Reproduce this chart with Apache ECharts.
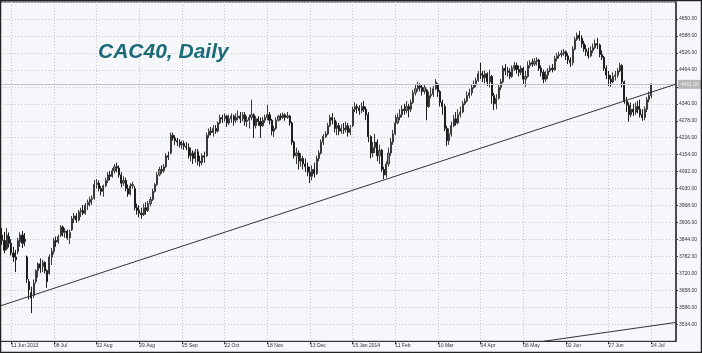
<!DOCTYPE html>
<html>
<head>
<meta charset="utf-8">
<script src="https://cdn.jsdelivr.net/npm/echarts@6/dist/echarts.min.js"></script>
<style>
html,body{margin:0;padding:0;background:#f6f7fb;}
#chart{width:702px;height:353px;}
</style>
</head>
<body>
<div id="chart"></div>
<script>
// ---- data ----
const firstDay = '2013-06-04';
const holidays = ['2013-12-24','2013-12-25','2013-12-26','2014-01-01','2014-04-18','2014-04-21','2014-05-01'];
const slotCount = 302; // trading-day slots on the axis (incl. right-hand shift)

const tickDates = ['2013-06-11','2013-07-08','2013-08-02','2013-08-29','2013-09-25','2013-10-22','2013-11-18','2013-12-13','2014-01-15','2014-02-11','2014-03-10','2014-04-04','2014-05-06','2014-06-02','2014-06-27','2014-07-24'];
const tickLabels = ['11 Jun 2013','08 Jul','02 Aug','29 Aug','25 Sep','22 Oct','18 Nov','13 Dec','15 Jan 2014','11 Feb','10 Mar','04 Apr','06 May','02 Jun','27 Jun','24 Jul'];

const opens = [
3890,3860,3840,3810,3855,3830,3795,3780,3800,3835,
3860,3845,3780,3690,3650,3640,3690,3730,3755,3745,
3760,3730,3720,3780,3800,3840,3835,3860,3890,3870,
3875,3850,3880,3920,3930,3915,3945,3950,3940,3970,
3980,3990,3995,4045,4050,4030,4020,4040,4060,4080,
4075,4095,4110,4105,4080,4050,4060,4030,4010,4040,
4030,3960,3950,3940,3935,3960,3950,3975,3990,4020,
4045,4080,4100,4095,4110,4150,4160,4225,4215,4205,
4200,4190,4195,4185,4180,4150,4160,4140,4165,4130,
4125,4150,4150,4225,4240,4235,4250,4240,4270,4290,
4285,4295,4270,4285,4295,4280,4290,4295,4285,4300,
4275,4280,4290,4300,4260,4285,4275,4260,4280,4290,
4300,4280,4240,4250,4280,4295,4290,4300,4290,4295,
4270,4200,4150,4160,4130,4140,4120,4110,4090,4075,
4100,4085,4140,4160,4200,4220,4230,4260,4290,4280,
4250,4260,4240,4250,4245,4260,4235,4260,4320,4330,
4325,4315,4330,4320,4300,4220,4160,4180,4200,4150,
4170,4100,4080,4120,4160,4200,4230,4270,4290,4300,
4320,4315,4330,4320,4345,4380,4395,4405,4400,4385,
4390,4330,4370,4375,4395,4410,4385,4345,4330,4250,
4205,4230,4260,4285,4270,4300,4310,4340,4350,4370,
4380,4400,4410,4425,4450,4445,4435,4450,4420,4440,
4370,4340,4360,4400,4420,4470,4460,4455,4440,4470,
4480,4465,4455,4470,4430,4440,4480,4490,4485,4495,
4500,4470,4455,4430,4445,4460,4470,4465,4505,4515,
4520,4525,4530,4515,4500,4490,4540,4575,4590,4580,
4560,4540,4530,4515,4535,4545,4560,4555,4520,4510,
4470,4445,4430,4420,4440,4445,4460,4480,4420,4350,
4335,4300,4320,4310,4330,4320,4300,4290,4320,4355,
4370];

const closes = [
3860,3840,3805,3860,3830,3795,3780,3770,3840,3860,
3830,3838,3700,3660,3630,3685,3730,3755,3740,3760,
3730,3690,3780,3800,3840,3835,3855,3890,3870,3875,
3850,3870,3920,3930,3915,3945,3950,3940,3970,3980,
3990,3995,4045,4050,4030,4020,4040,4060,4080,4075,
4095,4110,4105,4080,4050,4060,4030,4010,4040,4045,
3960,3950,3940,3935,3960,3950,3975,3990,4020,4045,
4080,4100,4095,4110,4150,4145,4225,4215,4205,4200,
4190,4195,4185,4180,4150,4160,4140,4165,4130,4125,
4150,4145,4225,4240,4235,4250,4240,4270,4290,4285,
4295,4270,4285,4295,4280,4290,4295,4285,4300,4275,
4280,4290,4300,4260,4285,4275,4260,4280,4290,4300,
4280,4240,4250,4280,4295,4290,4300,4290,4295,4270,
4200,4150,4160,4130,4140,4120,4110,4090,4075,4100,
4085,4140,4160,4200,4220,4230,4260,4290,4280,4250,
4260,4240,4250,4245,4260,4235,4250,4320,4330,4325,
4315,4330,4320,4300,4220,4160,4180,4200,4150,4170,
4100,4080,4120,4160,4200,4230,4270,4290,4300,4320,
4315,4330,4320,4345,4380,4395,4405,4400,4385,4400,
4330,4370,4375,4395,4420,4385,4345,4330,4250,4205,
4230,4260,4285,4270,4300,4310,4340,4350,4370,4380,
4400,4410,4425,4450,4445,4435,4450,4420,4440,4370,
4340,4360,4400,4420,4470,4460,4455,4440,4470,4480,
4465,4455,4470,4430,4440,4480,4490,4485,4495,4500,
4470,4455,4430,4445,4460,4470,4465,4505,4515,4520,
4525,4530,4515,4500,4490,4540,4575,4590,4580,4560,
4540,4530,4515,4535,4545,4560,4555,4520,4510,4470,
4445,4430,4420,4440,4445,4460,4480,4420,4350,4335,
4300,4320,4310,4330,4320,4300,4290,4320,4355,4370,
4411];

const lows = [
3843,3825,3794,3805,3815,3785,3762,3725,3790,3817,
3813,3820,3685,3625,3575,3630,3683,3705,3722,3725,
3720,3667,3715,3751,3790,3817,3828,3853,3855,3850,
3843,3828,3875,3904,3905,3910,3926,3933,3935,3952,
3965,3970,3990,4030,4020,4005,4000,4035,4050,4060,
4070,4085,4090,4070,4035,4040,4020,4000,4005,4030,
3950,3935,3925,3920,3930,3935,3945,3965,3985,4015,
4040,4075,4085,4088,4105,4135,4155,4205,4190,4185,
4180,4175,4172,4170,4140,4130,4120,4125,4115,4110,
4115,4125,4145,4215,4225,4220,4230,4235,4265,4270,
4275,4255,4262,4270,4260,4270,4280,4270,4275,4260,
4255,4250,4280,4215,4250,4260,4215,4255,4270,4280,
4265,4225,4219,4245,4275,4280,4285,4278,4285,4260,
4190,4140,4120,4100,4110,4100,4090,4075,4050,4060,
4070,4080,4130,4155,4190,4215,4225,4255,4265,4235,
4225,4225,4230,4230,4235,4220,4225,4255,4310,4305,
4300,4305,4310,4280,4200,4140,4145,4160,4130,4120,
4090,4065,4070,4110,4150,4190,4225,4265,4280,4290,
4300,4305,4290,4310,4340,4370,4385,4385,4370,4375,
4280,4325,4360,4365,4390,4365,4330,4300,4240,4185,
4190,4220,4255,4260,4265,4290,4305,4335,4345,4360,
4370,4395,4400,4420,4430,4420,4415,4405,4400,4340,
4317,4320,4355,4390,4415,4445,4440,4430,4435,4460,
4450,4440,4445,4410,4402,4435,4470,4475,4478,4480,
4460,4440,4415,4420,4430,4455,4455,4460,4495,4505,
4510,4515,4500,4485,4475,4480,4535,4570,4570,4545,
4530,4515,4505,4510,4525,4540,4540,4510,4500,4460,
4430,4405,4402,4415,4425,4435,4455,4400,4340,4310,
4275,4290,4295,4300,4305,4290,4278,4280,4310,4345,
4360];

const highs = [
3910,3886,3872,3886,3870,3845,3817,3806,3850,3870,
3875,3868,3785,3700,3672,3698,3735,3760,3775,3770,
3765,3735,3790,3813,3850,3855,3862,3897,3895,3886,
3880,3880,3930,3941,3940,3952,3960,3970,3977,3990,
4000,4005,4062,4065,4060,4040,4045,4070,4090,4095,
4105,4120,4125,4115,4090,4075,4070,4045,4050,4055,
4040,3975,3970,3960,3975,3980,3985,4000,4030,4050,
4090,4110,4115,4120,4160,4165,4235,4235,4225,4215,
4210,4205,4205,4200,4195,4180,4170,4175,4175,4150,
4160,4165,4235,4250,4255,4262,4262,4275,4300,4300,
4305,4300,4300,4305,4300,4305,4315,4310,4310,4310,
4295,4300,4355,4305,4295,4295,4290,4292,4300,4336,
4310,4285,4260,4290,4300,4305,4308,4305,4310,4300,
4275,4205,4180,4170,4160,4150,4140,4125,4110,4115,
4125,4150,4170,4210,4230,4240,4270,4300,4306,4290,
4275,4270,4265,4270,4275,4270,4262,4330,4345,4340,
4335,4345,4350,4330,4310,4225,4200,4230,4210,4190,
4175,4110,4130,4180,4215,4245,4300,4305,4320,4335,
4340,4350,4340,4355,4390,4410,4420,4415,4410,4410,
4395,4385,4400,4405,4430,4415,4390,4355,4340,4260,
4250,4275,4300,4310,4320,4330,4350,4360,4385,4395,
4410,4425,4435,4460,4490,4460,4462,4455,4465,4445,
4380,4375,4410,4430,4480,4485,4475,4470,4480,4493,
4490,4480,4480,4475,4460,4495,4500,4505,4507,4510,
4505,4480,4465,4460,4470,4480,4485,4515,4525,4530,
4537,4540,4535,4525,4510,4550,4585,4600,4606,4590,
4570,4555,4545,4550,4560,4575,4580,4560,4535,4515,
4480,4460,4445,4455,4460,4470,4490,4485,4425,4365,
4345,4345,4340,4345,4350,4355,4320,4330,4365,4385,
4415];

// trend lines drawn on the chart: [startIndex, startValue, endIndex, endValue]
const trendLines = [[0, 3601, 301, 4412], [242, 3472, 301, 3541]];

// ---- build the trading-day category axis ----
function buildDays(start, count, hol) {
  const out = [];
  const d = new Date(start + 'T00:00:00Z');
  while (out.length < count) {
    const wd = d.getUTCDay();
    const s = d.toISOString().slice(0, 10);
    if (wd !== 0 && wd !== 6 && hol.indexOf(s) < 0) out.push(s);
    d.setUTCDate(d.getUTCDate() + 1);
  }
  return out;
}
const days = buildDays(firstDay, slotCount, holidays);
const labelOf = {};
tickDates.forEach((t, k) => { labelOf[t] = tickLabels[k]; });
const isTick = (idx, val) => labelOf[days[idx]] !== undefined;

const candles = opens.map((o, i) => [o, closes[i], lows[i], highs[i]]);
const lastClose = closes[closes.length - 1];

const chart = echarts.init(document.getElementById('chart'), null, {renderer: 'canvas'});
const font = 'Liberation Sans, Arial, sans-serif';
chart.setOption({
  animation: false,
  backgroundColor: '#f6f7fb',
  title: {
    text: 'CAC40, Daily', left: 98, top: 42, padding: 0,
    textStyle: {fontSize: 21, fontStyle: 'italic', fontWeight: 'bold', color: '#1b6b78', fontFamily: font}
  },
  grid: {left: 0, right: 26, top: 2, bottom: 11.7, show: true, borderColor: '#333', borderWidth: 1, backgroundColor: 'transparent'},
  xAxis: {
    type: 'category', data: days, boundaryGap: false,
    axisLine: {show: true, lineStyle: {color: '#333', width: 1}},
    axisTick: {show: true, interval: isTick, length: 3, lineStyle: {color: '#333'}},
    axisLabel: {interval: isTick, formatter: v => labelOf[v] || '', fontSize: 5, color: '#333', align: 'left', margin: 2, fontFamily: font},
    splitLine: {show: true, interval: isTick, lineStyle: {color: '#c4c6d0', type: [1, 2], width: 1}}
  },
  yAxis: {
    type: 'value', position: 'right', min: 3472, max: 4712, interval: 62,
    axisLine: {show: true, lineStyle: {color: '#333', width: 1.5}},
    axisTick: {show: true, length: 2, lineStyle: {color: '#333'}},
    axisLabel: {fontSize: 5, color: '#333', margin: 3, formatter: v => v.toFixed(2), showMinLabel: false, showMaxLabel: false, fontFamily: font},
    splitLine: {show: true, lineStyle: {color: '#c4c6d0', type: [1, 2], width: 1}}
  },
  series: [{
    type: 'candlestick',
    data: candles,
    barWidth: 1.6,
    itemStyle: {color: '#8a8a8a', color0: '#1e1e1e', borderColor: '#3a3a3a', borderColor0: '#1e1e1e', borderWidth: 1},
    markLine: {
      silent: true, symbol: ['none', 'none'], animation: false,
      data: [
        {yAxis: lastClose, lineStyle: {color: '#c3c3c3', width: 1, type: 'solid'},
         label: {show: true, position: 'end', distance: 2, formatter: p => p.value.toFixed(2), fontSize: 5, color: '#f2f2f2', backgroundColor: '#b8b8b8', padding: [2, 3], fontFamily: font}},
        ...trendLines.map(t => [
          {coord: [t[0], t[1]], lineStyle: {color: '#333', width: 1, type: 'solid'}, label: {show: false}},
          {coord: [t[2], t[3]]}
        ])
      ]
    }
  }],
  graphic: [{type: 'rect', shape: {x: 0.5, y: 0.5, width: 701, height: 352}, style: {fill: 'none', stroke: '#222', lineWidth: 1.5}, silent: true, z: 100}]
});
</script>
</body>
</html>
